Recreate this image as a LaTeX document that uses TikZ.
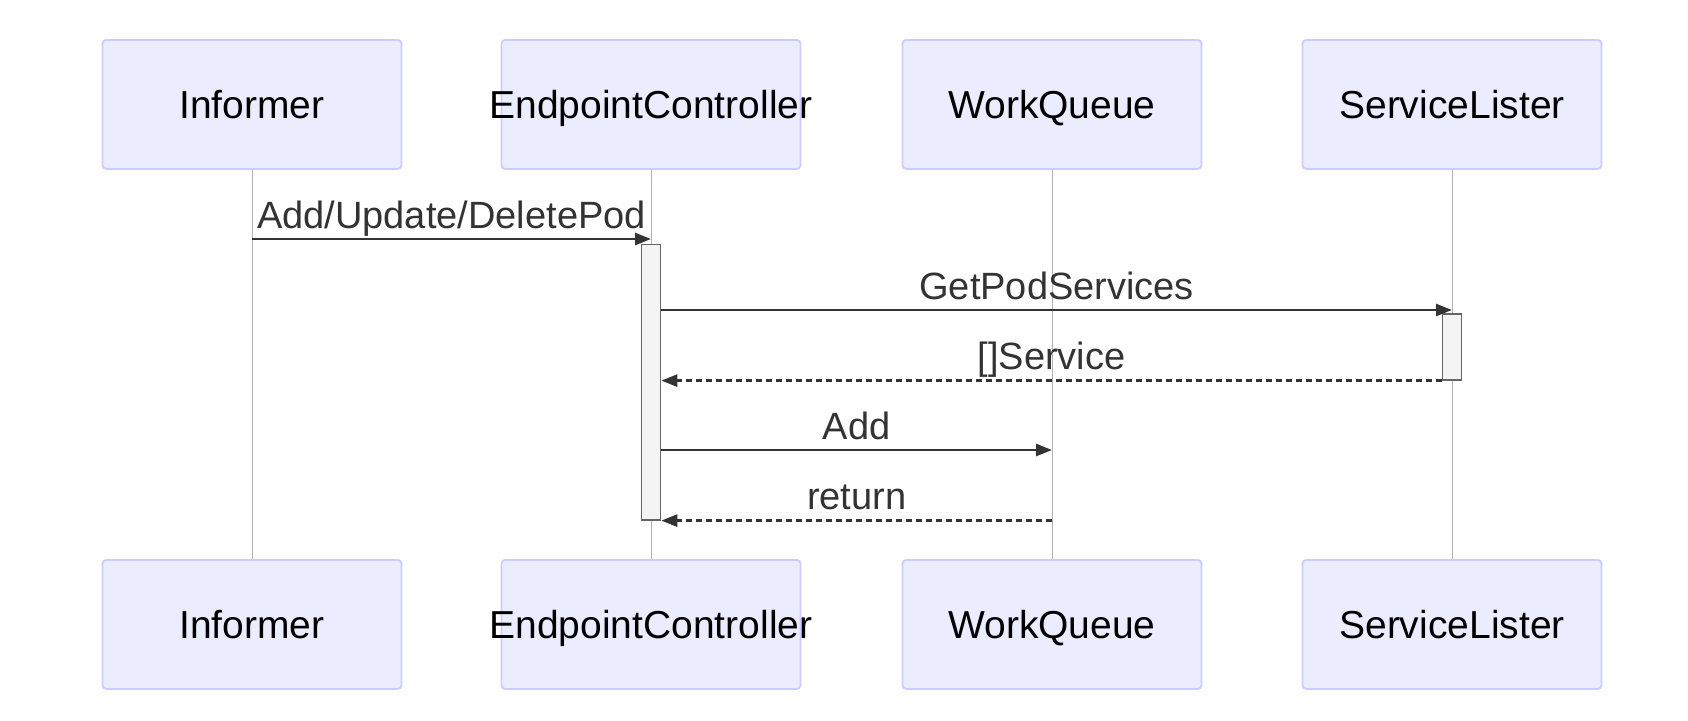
\documentclass[tikz,border=0pt]{standalone}
\usepackage{fontspec}
\setmainfont{Liberation Sans}
\usetikzlibrary{arrows.meta}
\definecolor{actorfill}{HTML}{ECECFF}
\definecolor{actorline}{HTML}{CCCCFF}
\definecolor{msgcol}{HTML}{333333}
\definecolor{actfill}{HTML}{F4F4F4}
\definecolor{actline}{HTML}{666666}
\newcommand{\actorname}[1]{\makebox[0pt]{#1}}
\begin{document}
\begin{tikzpicture}[x=0.5pt, y=-0.5pt,
    actor/.style={draw=actorline, fill=actorfill, line width=0.9pt, rounded corners=1.8pt,
                  minimum width=149.5pt, minimum height=64.5pt, inner sep=0pt,
                  text height=14pt, text depth=0pt,
                  font=\fontsize{19.5}{23}\selectfont},
    life/.style={draw=black!30, line width=0.5pt},
    act/.style={draw=actline, fill=actfill, line width=0.6pt, minimum width=9.7pt, inner sep=0pt},
    msg/.style={draw=msgcol, line width=1.3pt, -{Triangle[length=8pt, width=6pt]}},
    reply/.style={msg, dash pattern=on 3pt off 2pt},
    lbl/.style={text=msgcol, anchor=base, yshift=5.5pt, inner sep=0pt,
                font=\fontsize{19}{22}\selectfont}]
      \useasboundingbox (0, 0) rectangle (1688, 720);
      % actors, top and bottom
      \node[actor] (inf)  at ( 252, 104.4) {\actorname{Informer}};
      \node[actor] (ec)   at ( 651, 104.4) {\actorname{EndpointController}};
      \node[actor] (wq)   at (1052, 104.4) {\actorname{WorkQueue}};
      \node[actor] (sl)   at (1452, 104.4) {\actorname{ServiceLister}};
      \node[actor] (inf2) at ( 252, 624.4) {\actorname{Informer}};
      \node[actor] (ec2)  at ( 651, 624.4) {\actorname{EndpointController}};
      \node[actor] (wq2)  at (1052, 624.4) {\actorname{WorkQueue}};
      \node[actor] (sl2)  at (1452, 624.4) {\actorname{ServiceLister}};
      % lifelines
      \foreach \a in {inf, ec, wq, sl}
        \draw[life] (\a.south) -- (\a2.north);
      % activations
      \node[act, minimum height=137.8pt] (actEC) at ( 651, 382.2) {};
      \node[act, minimum height=33pt]    (actSL) at (1452, 347)   {};
      % message rows
      \coordinate (m1) at (0, 239);
      \coordinate (m2) at (0, 310);
      \coordinate (m4) at (0, 450);
      % messages
      \draw[msg] (inf |- m1) -- node[lbl]{Add/Update/DeletePod} (ec |- m1);
      \draw[msg] (actEC.east |- m2) -- node[lbl]{GetPodServices} (sl |- m2);
      \draw[reply] (actSL.south west) -- node[lbl]{[]Service} (actEC.east |- actSL.south);
      \draw[msg] (actEC.east |- m4) -- node[lbl]{Add} (wq |- m4);
      \draw[reply] (wq |- actEC.south) -- node[lbl]{return} (actEC.south east);
\end{tikzpicture}
\end{document}
